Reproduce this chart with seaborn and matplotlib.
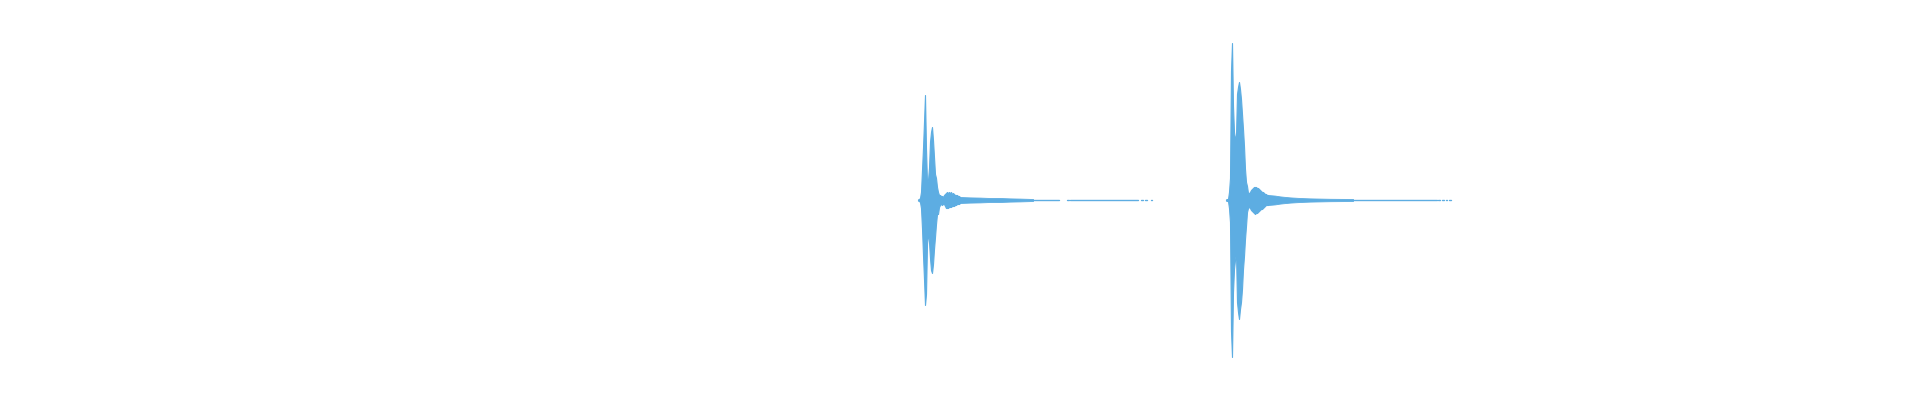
import numpy as np
import pandas as pd
import matplotlib
matplotlib.use("Agg")
import matplotlib.pyplot as plt
import seaborn as sns

# ---- data (waveform envelope, amplitude as fraction of full scale) ----
column_dt = 0.025  # seconds per envelope column

burst1_onset = 22.95
burst1_upper = [0.003, 0.005, 0.01, 0.04, 0.15, 0.26, 0.39, 0.525, 0.255, 0.09,
                0.10, 0.16, 0.29, 0.34, 0.365, 0.30, 0.215, 0.13, 0.11, 0.065,
                0.04, 0.025, 0.025, 0.02, 0.02, 0.015, 0.025, 0.03, 0.035, 0.04,
                0.035, 0.04, 0.035, 0.04, 0.03, 0.035, 0.03, 0.025, 0.025, 0.025,
                0.02, 0.02, 0.015]
burst1_lower = [0.003, 0.005, 0.01, 0.04, 0.14, 0.275, 0.395, 0.525, 0.47, 0.22,
                0.16, 0.21, 0.29, 0.35, 0.365, 0.32, 0.245, 0.185, 0.12, 0.07,
                0.07, 0.035, 0.025, 0.02, 0.025, 0.02, 0.02, 0.03, 0.04, 0.04,
                0.04, 0.035, 0.035, 0.035, 0.03, 0.03, 0.03, 0.025, 0.025, 0.02,
                0.02, 0.02, 0.015]
tail1_t = [24.0, 24.25, 24.5, 24.75, 25.0, 25.25, 25.5, 25.825]
tail1_amp = [0.015, 0.013, 0.012, 0.010, 0.010, 0.008, 0.007, 0.005]
tail1_segments = [(25.825, 26.475), (26.675, 26.725), (26.75, 28.45),
                  (28.525, 28.575), (28.625, 28.675), (28.775, 28.8)]

burst2_onset = 30.65
burst2_upper = [0.003, 0.005, 0.005, 0.04, 0.11, 0.645, 0.785, 0.47, 0.34, 0.31,
                0.32, 0.53, 0.565, 0.59, 0.555, 0.505, 0.43, 0.355, 0.27, 0.155,
                0.09, 0.07, 0.035, 0.035, 0.04, 0.05, 0.055, 0.06, 0.065, 0.065,
                0.065, 0.06, 0.06, 0.055, 0.05, 0.045, 0.04, 0.04, 0.035, 0.03,
                0.03, 0.025, 0.025]
burst2_lower = [0.003, 0.005, 0.005, 0.04, 0.11, 0.655, 0.785, 0.46, 0.345, 0.30,
                0.26, 0.51, 0.56, 0.595, 0.545, 0.51, 0.445, 0.345, 0.28, 0.195,
                0.13, 0.06, 0.04, 0.035, 0.04, 0.05, 0.055, 0.06, 0.065, 0.07,
                0.065, 0.065, 0.06, 0.055, 0.05, 0.045, 0.045, 0.04, 0.035, 0.03,
                0.025, 0.025, 0.025]
tail2_t = [31.7, 31.875, 32.0, 32.25, 32.5, 32.75, 33.25, 33.825]
tail2_amp = [0.025, 0.022, 0.018, 0.013, 0.010, 0.008, 0.006, 0.005]
tail2_segments = [(33.825, 35.925), (35.95, 36.0), (36.05, 36.1),
                  (36.15, 36.175), (36.225, 36.275)]

total_duration = 48.0
wave_color = "#5DADE2"

# ---- plot ----
sns.set_theme(style="white")
fig = plt.figure(figsize=(19.2, 4), dpi=100)
ax = fig.add_axes([0, 0, 1, 1])

for onset, up, lo, tt, ta in [
    (burst1_onset, burst1_upper, burst1_lower, tail1_t, tail1_amp),
    (burst2_onset, burst2_upper, burst2_lower, tail2_t, tail2_amp),
]:
    t = onset + column_dt * np.arange(len(up))
    ax.fill_between(t, np.array(up), -np.array(lo), color=wave_color,
                    linewidth=0.8, edgecolor=wave_color)
    ax.fill_between(tt, ta, -np.array(ta), color=wave_color,
                    linewidth=0.6, edgecolor=wave_color)

rows = []
for k, (a, b) in enumerate(tail1_segments + tail2_segments):
    rows.append({"t": a, "v": 0.0, "seg": k})
    rows.append({"t": b, "v": 0.0, "seg": k})
seg_df = pd.DataFrame(rows)
sns.lineplot(data=seg_df, x="t", y="v", units="seg", estimator=None,
             color=wave_color, linewidth=1.0, ax=ax, legend=False)

ax.set_xlim(0, total_duration)
ax.set_ylim(-1, 1)
ax.axis("off")
fig.savefig("out.png", dpi=100, facecolor="white")
